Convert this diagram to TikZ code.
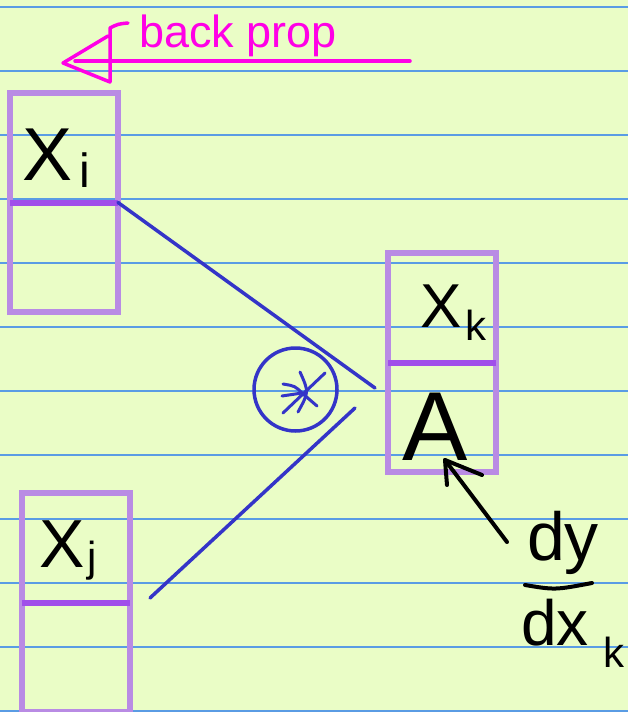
\documentclass[tikz,border=0pt]{standalone}
\usepackage{fontspec}
\setmainfont{Liberation Sans}
\definecolor{paper}{HTML}{EAFDC6}
\definecolor{rule}{HTML}{5A9CE4}
\definecolor{cellborder}{HTML}{B98BE4}
\definecolor{celldiv}{HTML}{A04EEA}
\definecolor{ink}{HTML}{3434C8}
\definecolor{hilite}{HTML}{FF00E6}
\newcommand{\sz}[1]{\fontsize{#1}{#1}\selectfont}
\begin{document}
\begin{tikzpicture}[x=1pt,y=-1pt,
  cell/.style={draw=cellborder, line width=6pt, rectangle, inner sep=0pt, outer sep=0pt,
               minimum width=108pt, minimum height=219pt},
  divider/.style={draw=celldiv, line width=6pt},
  lbl/.style={anchor=base, inner sep=0pt, text=black},
  inkline/.style={draw=ink, line width=3.5pt, line cap=round},
  pen/.style={draw=black, line width=4pt, line cap=round, line join=round},
  marker/.style={draw=hilite, line width=3.5pt, line cap=round, line join=round}]

% paper with ruled lines
\fill[paper] (0,0) rectangle (628,712);
\useasboundingbox (0,0) rectangle (628,712);
\foreach \yy in {7,71,...,711}
  \draw[rule, line width=1.4pt] (0,\yy) -- (628,\yy);

% back-propagation arrow
\draw[marker] (75,61) -- (410,61);
\draw[marker] (128,23) .. controls (118,24) .. (110,28) -- (110,82) -- (63,63) -- (108,36);
\node[anchor=base, inner sep=0pt, text=hilite] (bp) at (238,47) {\sz{45}back prop};

% cells
\node[cell] (bi) at (64,202.5) {};
\draw[divider] (bi.west) -- (bi.east);
\node[cell] (bk) at (442,362.5) {};
\draw[divider] (bk.west) -- (bk.east);
\node[cell] (bj) at (76,602.5) {};
\draw[divider] (bj.west) -- (bj.east);

% cell labels
\node[lbl] (xi) at (48,180) {\sz{75}X};
\node[lbl] (xis) at (85,187) {\sz{48}i};
\node[lbl] (xk) at (441,327) {\sz{62}X};
\node[lbl] (xks) at (476,340) {\sz{42}k};
\node[lbl] (av) at (435,460) {\sz{98}A};
\node[lbl] (xj) at (62,567) {\sz{68}X};
\node[lbl] (xjs) at (92,571) {\sz{42}j};

% operator
\node[draw=ink, circle, line width=3.5pt, minimum size=83pt, inner sep=0pt] (op) at (295.5,389.5) {};
\coordinate (st) at (302,393);
\draw[inkline, line width=3pt] (300,372) .. controls (309,392) .. (298,412);
\draw[inkline, line width=3pt] (283,384) .. controls (295,386) .. (st);
\draw[inkline, line width=3pt] (282,396) -- (st);
\draw[inkline, line width=3pt] (325,373) -- (283,413);
\draw[inkline, line width=3pt] (st) -- (317,406);

% inputs meeting at the operator
\coordinate (m1) at (375,388);
\coordinate (m2a) at (150,598);
\coordinate (m2b) at (355,408);
\draw[inkline] (bi.east) -- (m1);
\draw[inkline] (m2a) -- (m2b);

% gradient note
\coordinate (tail) at (507,542);
\coordinate (tip) at (445,460);
\draw[pen] (tail) -- (tip);
\draw[pen] (447,485) -- (tip) -- (482,475);
\node[lbl] (dy) at (563,560) {\sz{68}dy};
\coordinate (b1) at (525,585);
\coordinate (b2) at (592,583);
\draw[pen] (b1) .. controls (555,590) .. (b2);
\node[lbl] (dx) at (555,645) {\sz{64}dx};
\node[lbl] (dxs) at (614,667) {\sz{42}k};
\end{tikzpicture}
\end{document}
